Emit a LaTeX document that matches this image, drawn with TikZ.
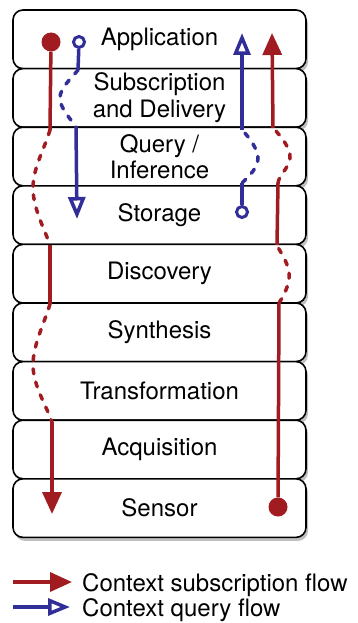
\documentclass[tikz,border=0pt]{standalone}
\usepackage{fontspec}
\setmainfont{TeX Gyre Heros}
\usepackage{xcolor}
\usetikzlibrary{arrows.meta,shadows}

\definecolor{subred}{RGB}{160,28,32}
\definecolor{qryblue}{RGB}{50,46,152}

\begin{document}
\begin{tikzpicture}[x=1pt,y=-1pt,
    layer/.style={draw, line width=1.6pt, rounded corners=10pt, fill=white,
        minimum width=293pt, minimum height=58.6pt, align=center,
        font=\fontsize{24}{26.5}\selectfont,
        drop shadow={shadow xshift=2pt, shadow yshift=-3.5pt, opacity=0.5}},
    subflow/.style={subred, line width=3.5pt},
    qryflow/.style={qryblue, line width=3.5pt},
    dots/.style={dash pattern=on 5pt off 8.5pt, line cap=round},
    subtip/.style={-{Triangle[length=22pt,width=19pt]}},
    qrytip/.style={-{Triangle[open,length=22pt,width=17pt]}},
    subdot/.style={circle, fill=subred, minimum size=19pt, inner sep=0pt},
    qrydot/.style={circle, draw=qryblue, line width=3pt, fill=white, minimum size=11pt, inner sep=0pt},
    legendtext/.style={anchor=base west, font=\fontsize{24}{24}\selectfont, inner sep=0pt}]

    \useasboundingbox (0,0) rectangle (357,623);

    % Layers
    \node[layer] (app) at (159.5,39.3) {Application};
    \node[layer] (sub) at (159.5,97.9) {Subscription\\and Delivery};
    \node[layer] (query) at (159.5,156.5) {Query /\\Inference};
    \node[layer] (store) at (159.5,215.1) {Storage};
    \node[layer] (disc) at (159.5,273.7) {Discovery};
    \node[layer] (synth) at (159.5,332.3) {Synthesis};
    \node[layer] (trans) at (159.5,390.9) {Transformation};
    \node[layer] (acq) at (159.5,449.5) {Acquisition};
    \node[layer] (sensor) at (159.5,508.1) {Sensor};

    % Subscription flow, down the left side
    \node[subdot] (subsrc) at (51,42) {};
    \coordinate (rd1) at (50,130);
    \coordinate (rd2) at (50,245);
    \coordinate (rd3) at (50,304);
    \coordinate (rd4) at (52,422);
    \coordinate (rd5) at (52,514);
    \draw[subflow] (subsrc) -- (rd1);
    \draw[subflow, dots] (rd1) .. controls (44,150) and (33,168) .. (33,188)
        .. controls (33,208) and (44,228) .. (rd2);
    \draw[subflow] (rd2) -- (rd3);
    \draw[subflow, dots] (rd3) .. controls (44,324) and (33,345) .. (33,365)
        .. controls (33,385) and (46,405) .. (rd4);
    \draw[subflow, subtip] (rd4) -- (rd5);

    % Subscription flow, up the right side
    \node[subdot] (sensdot) at (278,507) {};
    \coordinate (ru1) at (279,303);
    \coordinate (ru2) at (277,245);
    \coordinate (ru3) at (278,183);
    \coordinate (ru4) at (273,128);
    \coordinate (ru5) at (272,33);
    \draw[subflow] (sensdot) -- (ru1);
    \draw[subflow, dots] (ru1) .. controls (286,292) and (290,282) .. (289,273)
        .. controls (288,262) and (280,252) .. (ru2);
    \draw[subflow] (ru2) -- (ru3);
    \draw[subflow, dots] (ru3) .. controls (279,175) and (289,168) .. (290,158)
        .. controls (291,150) and (283,138) .. (ru4);
    \draw[subflow, subtip] (ru4) -- (ru5);

    % Query flow, down
    \node[qrydot] (qrysrc) at (79,42) {};
    \coordinate (ql1) at (78,70);
    \coordinate (ql2) at (76,127);
    \coordinate (ql3) at (77,219);
    \draw[qryflow] (qrysrc) -- (ql1);
    \draw[qryflow, dots] (ql1) .. controls (70,80) and (60,88) .. (60,98)
        .. controls (60,108) and (70,118) .. (ql2);
    \draw[qryflow, qrytip] (ql2) -- (ql3);

    % Query flow, up
    \node[qrydot] (storedot) at (242,212) {};
    \coordinate (qr1) at (242,183);
    \coordinate (qr2) at (242,130);
    \coordinate (qr3) at (242,33);
    \draw[qryflow] (storedot) -- (qr1);
    \draw[qryflow, dots] (qr1) .. controls (249,176) and (258,168) .. (258,158)
        .. controls (258,150) and (250,138) .. (qr2);
    \draw[qryflow, qrytip] (qr2) -- (qr3);

    % Legend
    \coordinate (lr0) at (13,582);
    \coordinate (lr1) at (72,582);
    \coordinate (lb0) at (13,607);
    \coordinate (lb1) at (70,607);
    \draw[subflow, subtip] (lr0) -- (lr1);
    \draw[qryflow, qrytip] (lb0) -- (lb1);
    \node[legendtext] (sublbl) at (82,591) {Context subscription flow};
    \node[legendtext] (qrylbl) at (82,616) {Context query flow};
\end{tikzpicture}
\end{document}
